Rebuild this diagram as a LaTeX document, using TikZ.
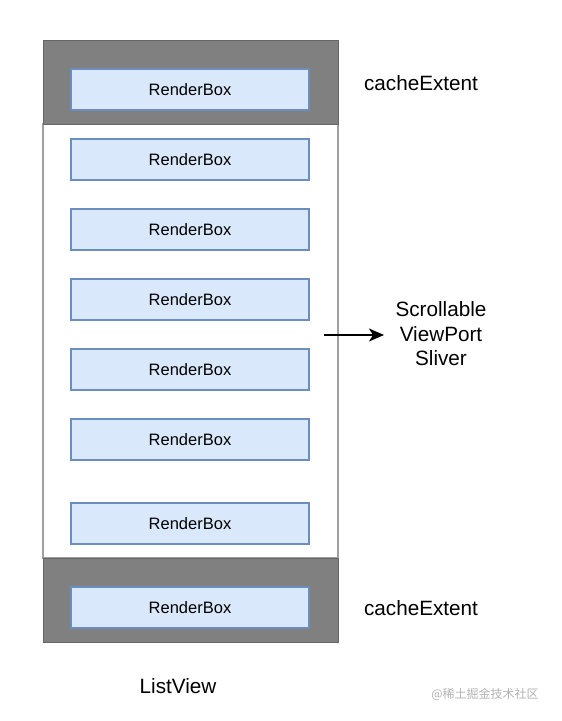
\documentclass[tikz,border=0pt]{standalone}
\usepackage{fontspec}
\setmainfont{Liberation Sans}
\newfontfamily\cjk{Noto Sans CJK SC}
\usetikzlibrary{arrows.meta}
\definecolor{bandgray}{HTML}{808080}
\definecolor{bandedge}{HTML}{666666}
\definecolor{boxfill}{HTML}{DAE8FC}
\definecolor{boxedge}{HTML}{6C8EBF}
\definecolor{frameedge}{HTML}{A0A0A0}
\tikzset{
  rbox/.style={draw=boxedge, fill=boxfill, line width=1.2pt, minimum width=238pt, minimum height=41pt, inner sep=0pt, font=\fontsize{16.5}{18}\selectfont},
  band/.style={draw=bandedge, fill=bandgray, line width=1pt},
  lbl/.style={font=\fontsize{20.7}{24.5}\selectfont, align=center, inner sep=0pt},
  flowarrow/.style={-{Stealth[length=15pt,width=13pt,inset=4pt]}, line width=1.6pt}
}
\begin{document}
\begin{tikzpicture}[x=1pt,y=-1pt]
\useasboundingbox (0,0) rectangle (562,721);
\draw[draw=frameedge, fill=white, line width=1.2pt] (43,124) rectangle (338,558);
\draw[band] (43,40) rectangle (338,124);
\draw[band] (43,558) rectangle (338,642);
\node[rbox] (b0) at (190,89.5) {RenderBox};
\node[rbox] (b1) at (190,159.5) {RenderBox};
\node[rbox] (b2) at (190,229.5) {RenderBox};
\node[rbox] (b3) at (190,299.5) {RenderBox};
\node[rbox] (b4) at (190,369.5) {RenderBox};
\node[rbox] (b5) at (190,439.5) {RenderBox};
\node[rbox] (b6) at (190,523.5) {RenderBox};
\node[rbox] (b7) at (190,607.5) {RenderBox};
\node[lbl] (c1) at (421,83) {cacheExtent};
\node[lbl] (c2) at (421,608) {cacheExtent};
\node[lbl] (sv) at (441,334) {Scrollable\\ViewPort\\Sliver};
\node[lbl] (lv) at (178,686) {ListView};
\coordinate (as) at (324,335);
\coordinate (ae) at (384,335);
\draw[flowarrow] (as) -- (ae);
\node[font=\cjk\fontsize{12}{14}\selectfont, text=black!30, inner sep=0pt] (wm) at (485,694) {@稀土掘金技术社区};
\end{tikzpicture}
\end{document}
